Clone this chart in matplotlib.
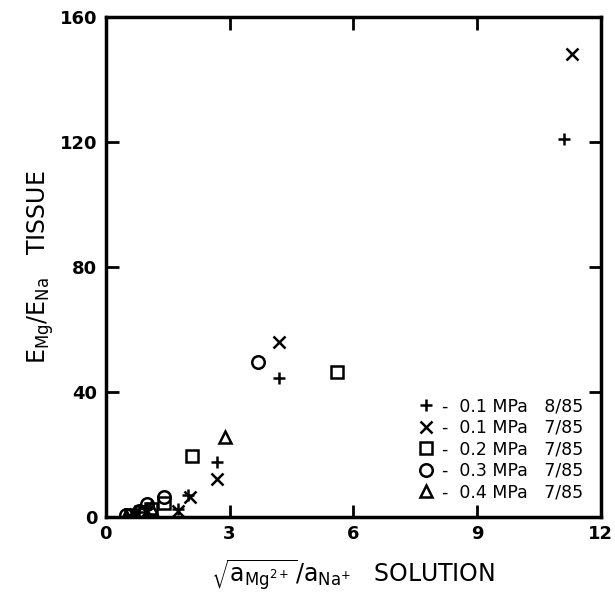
import matplotlib
matplotlib.use("Agg")
import matplotlib.pyplot as plt

plt.rcParams['font.family'] = ['DejaVu Sans']
plt.rcParams['mathtext.fontset'] = 'dejavusans'
plt.rcParams['mathtext.default'] = 'regular'

# data: sqrt(aMg)/aNa (x) vs EMg/ENa (y)
plus_x = [11.1, 4.2, 2.7, 2.0, 1.75, 1.0, 0.8, 0.6]
plus_y = [121, 44.5, 17.5, 7.0, 2.5, 3.0, 1.5, 0.5]
cross_x = [11.3, 4.2, 2.7, 2.05, 1.75, 1.0, 0.7]
cross_y = [148, 56, 12, 6.5, 2.0, 2.0, 1.0]
square_x = [5.6, 2.1, 1.4, 1.1, 0.85, 0.6]
square_y = [46.5, 19.5, 4.5, 2.5, 1.5, 0.5]
circle_x = [3.7, 1.4, 1.0, 0.8, 0.5]
circle_y = [49.5, 6.5, 4.0, 2.0, 0.5]
tri_x = [2.9, 1.1, 0.7, 0.5]
tri_y = [25.5, 3.0, 1.0, 0.3]

labels = ["-  0.1 MPa   8/85", "-  0.1 MPa   7/85", "-  0.2 MPa   7/85",
          "-  0.3 MPa   7/85", "-  0.4 MPa   7/85"]
x_ticks = [0, 3, 6, 9, 12]
y_ticks = [0, 40, 80, 120, 160]

fig = plt.figure(figsize=(6.15, 5.99), dpi=100)
ax = fig.add_axes([0.172, 0.137, 0.805, 0.835])

kw = dict(linestyle='none', color='black', markersize=9, markeredgewidth=1.8,
          markerfacecolor='none')
ax.plot(plus_x, plus_y, marker='+', label=labels[0], **kw)
ax.plot(cross_x, cross_y, marker='x', label=labels[1], **kw)
ax.plot(square_x, square_y, marker='s', label=labels[2], **kw)
ax.plot(circle_x, circle_y, marker='o', label=labels[3], **kw)
ax.plot(tri_x, tri_y, marker='^', label=labels[4], **kw)

ax.set_xlim(0, 12)
ax.set_ylim(0, 160)
ax.set_xticks(x_ticks)
ax.set_yticks(y_ticks)
ax.tick_params(direction='in', length=9, width=2, top=True, right=True,
               labelsize=13, pad=6)
for lab in ax.get_xticklabels() + ax.get_yticklabels():
    lab.set_fontweight('bold')
for s in ax.spines.values():
    s.set_linewidth(2.5)

ax.set_xlabel(r'$\sqrt{a_{Mg^{2+}}}/a_{Na^{+}}$   SOLUTION', fontsize=17, labelpad=10)
ax.set_ylabel(r'$E_{Mg}/E_{Na}$   TISSUE', fontsize=17, labelpad=3)

leg = ax.legend(loc='lower right', frameon=False, fontsize=12.5,
                handlelength=1.0, handletextpad=0.4, labelspacing=0.2,
                bbox_to_anchor=(0.995, 0.0))

fig.savefig('out.png', dpi=100)
